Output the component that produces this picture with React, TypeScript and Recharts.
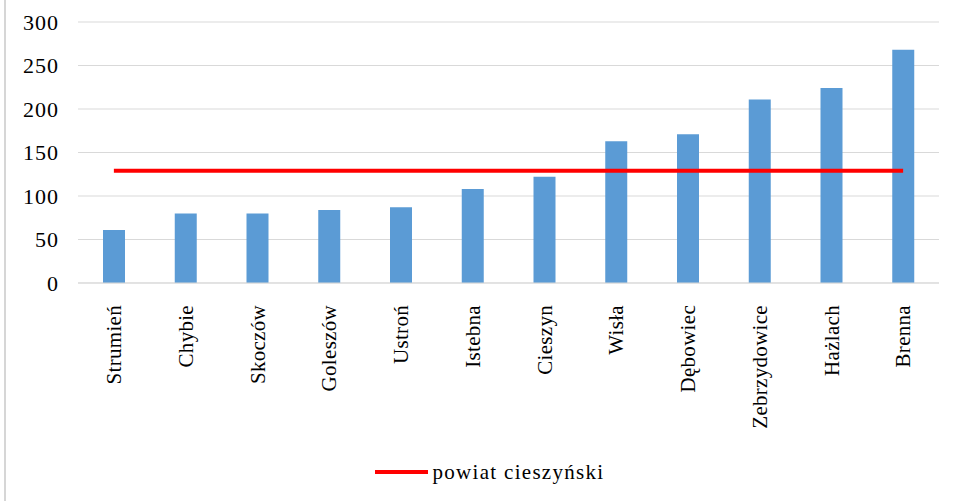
import {
  Bar,
  CartesianGrid,
  ComposedChart,
  Legend,
  Line,
  XAxis,
  YAxis,
} from "recharts";

const gminy = [
  "Strumień",
  "Chybie",
  "Skoczów",
  "Goleszów",
  "Ustroń",
  "Istebna",
  "Cieszyn",
  "Wisła",
  "Dębowiec",
  "Zebrzydowice",
  "Hażlach",
  "Brenna",
];
const wartosci = [61, 80, 80, 84, 87, 108, 122, 163, 171, 211, 224, 268];
const powiat = 129;
const yTicks = [0, 50, 100, 150, 200, 250, 300];

const data = gminy.map((g, i) => ({ gmina: g, wartosc: wartosci[i], powiat }));

const font = "'Liberation Serif', 'Times New Roman', serif";

const XTick = ({ x, y, payload }: any) => (
  <text
    x={x}
    y={y + 14}
    dy="0.35em"
    transform={`rotate(-90, ${x}, ${y + 14})`}
    textAnchor="end"
    fontFamily={font}
    fontSize={21}
    letterSpacing={0.3}
    fill="#000"
  >
    {payload.value}
  </text>
);

const LegendContent = () => (
  <div
    style={{
      display: "flex",
      justifyContent: "center",
      alignItems: "center",
      paddingLeft: 40,
      fontFamily: font,
      fontSize: 21,
      letterSpacing: 1.3,
      color: "#000",
      height: 30,
    }}
  >
    <svg width={53} height={6} style={{ marginRight: 5 }}>
      <line x1={0} y1={3} x2={53} y2={3} stroke="#FF0000" strokeWidth={4} />
    </svg>
    <span>powiat cieszyński</span>
  </div>
);

export default function App() {
  return (
    <div style={{ position: "absolute", top: 0, left: 0, width: 954, height: 501, background: "#fff" }}>
      <div
        style={{
          position: "absolute",
          left: 4,
          top: 0,
          width: 2,
          height: 501,
          background: "#D6D6D6",
        }}
      />
      <ComposedChart
        width={954}
        height={501}
        data={data}
        margin={{ top: 22, right: 15, bottom: 14, left: 0 }}
      >
        <CartesianGrid vertical={false} stroke="#D9D9D9" strokeWidth={1} />
        <XAxis
          dataKey="gmina"
          interval={0}
          height={174}
          tickLine={false}
          axisLine={{ stroke: "#D9D9D9" }}
          tick={<XTick />}
        />
        <YAxis
          domain={[0, 300]}
          ticks={yTicks}
          width={78}
          tickLine={false}
          axisLine={false}
          tickSize={0}
          tickMargin={19}
          tick={{ fontFamily: font, fontSize: 22, letterSpacing: 1, fill: "#000" }}
        />
        <Bar
          dataKey="wartosc"
          fill="#5B9BD5"
          barSize={22}
          isAnimationActive={false}
        />
        <Line
          type="linear"
          dataKey="powiat"
          stroke="#FF0000"
          strokeWidth={4}
          dot={false}
          isAnimationActive={false}
        />
        <Legend verticalAlign="bottom" height={30} content={<LegendContent />} />
      </ComposedChart>
    </div>
  );
}
